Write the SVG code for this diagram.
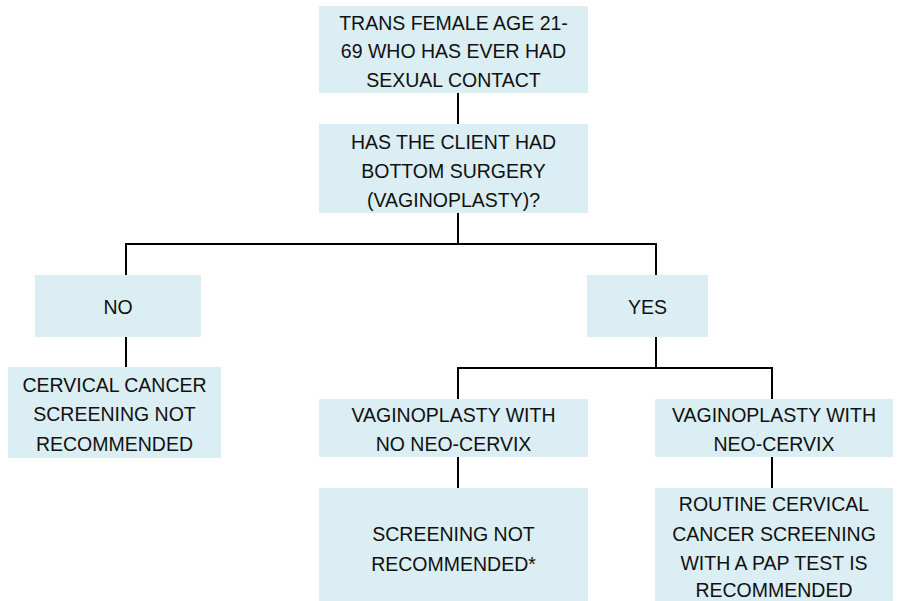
<svg xmlns="http://www.w3.org/2000/svg" width="902" height="601" viewBox="0 0 902 601">
  <style>
    .box { fill: #DAEEF3; stroke: none; }
    .lbl { font-family: "Liberation Sans", Arial, sans-serif; font-size: 19.5px; fill: #111111; text-anchor: middle; }
    .conn { fill: none; stroke: #000000; stroke-width: 2; }
  </style>
  <rect width="902" height="601" fill="#ffffff"/>
  <g id="connectors">
    <path class="conn" d="M458 93 V124"/>
    <path class="conn" d="M458 213 V244 M126 275 V244 H656 V275"/>
    <path class="conn" d="M126 337 V367"/>
    <path class="conn" d="M656 337 V368 M458 399 V368 H772 V399"/>
    <path class="conn" d="M458 457 V488"/>
    <path class="conn" d="M772 457 V488"/>
  </g>
  <g id="start">
    <rect class="box" x="319" y="6" width="269" height="87"/>
    <text class="lbl" x="453.5" y="29.5">TRANS FEMALE AGE 21-</text>
    <text class="lbl" x="453.5" y="58">69 WHO HAS EVER HAD</text>
    <text class="lbl" x="453.5" y="86.5">SEXUAL CONTACT</text>
  </g>
  <g id="question">
    <rect class="box" x="319" y="124" width="269" height="89"/>
    <text class="lbl" x="453.5" y="148.5">HAS THE CLIENT HAD</text>
    <text class="lbl" x="453.5" y="177.5">BOTTOM SURGERY</text>
    <text class="lbl" x="453.5" y="206.5">(VAGINOPLASTY)?</text>
  </g>
  <g id="no">
    <rect class="box" x="35" y="275" width="166" height="62"/>
    <text class="lbl" x="118" y="314">NO</text>
  </g>
  <g id="yes">
    <rect class="box" x="587" y="275" width="121" height="62"/>
    <text class="lbl" x="647.5" y="313.5">YES</text>
  </g>
  <g id="no-result">
    <rect class="box" x="8" y="367" width="213" height="91"/>
    <text class="lbl" x="114.5" y="391.5">CERVICAL CANCER</text>
    <text class="lbl" x="114.5" y="421">SCREENING NOT</text>
    <text class="lbl" x="114.5" y="450.5">RECOMMENDED</text>
  </g>
  <g id="no-neocervix">
    <rect class="box" x="319" y="399" width="269" height="58"/>
    <text class="lbl" x="453.5" y="421.5">VAGINOPLASTY WITH</text>
    <text class="lbl" x="453.5" y="451">NO NEO-CERVIX</text>
  </g>
  <g id="neocervix">
    <rect class="box" x="655" y="399" width="238" height="58"/>
    <text class="lbl" x="774" y="421.5">VAGINOPLASTY WITH</text>
    <text class="lbl" x="774" y="451">NEO-CERVIX</text>
  </g>
  <g id="no-neocervix-result">
    <rect class="box" x="319" y="488" width="269" height="113"/>
    <text class="lbl" x="453.5" y="541">SCREENING NOT</text>
    <text class="lbl" x="453.5" y="570.5">RECOMMENDED*</text>
  </g>
  <g id="neocervix-result">
    <rect class="box" x="655" y="488" width="238" height="113"/>
    <text class="lbl" x="774" y="511">ROUTINE CERVICAL</text>
    <text class="lbl" x="774" y="540.5">CANCER SCREENING</text>
    <text class="lbl" x="774" y="569.5">WITH A PAP TEST IS</text>
    <text class="lbl" x="774" y="597">RECOMMENDED</text>
  </g>
</svg>
